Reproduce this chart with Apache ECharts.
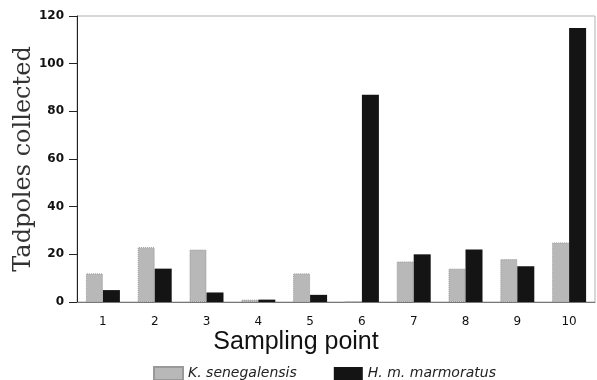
<!DOCTYPE html>
<html>
<head>
<meta charset="utf-8">
<script src="https://cdn.jsdelivr.net/npm/echarts@6/dist/echarts.min.js"></script>
<style>
    html, body { margin: 0; padding: 0; background: #fff; }
    #chart { width: 597px; height: 380px; }
</style>
</head>
<body>
<div id="chart"></div>
<script>
    // sampling points along the x axis
    var points = ['1', '2', '3', '4', '5', '6', '7', '8', '9', '10']
    // tadpoles collected per species
    var kSenegalensis = [12, 23, 22, 1, 12, 0, 17, 14, 18, 25]
    var hMarmoratus = [5, 14, 4, 1, 3, 87, 20, 22, 15, 115]
    var yTicks = [0, 20, 40, 60, 80, 100, 120]

    var myChart = echarts.init(document.getElementById('chart'))

    var option = {
        animation: false,
        grid: {
            left: 77,
            right: 2,
            top: 16,
            bottom: 78,
            outerBoundsMode: 'none',
            show: true,
            borderColor: '#b0b0b0',
            borderWidth: 1
        },
        // x axis title sits left of the plot centre in the original
        graphic: [{
            type: 'text',
            x: 296,
            y: 342,
            style: {
                text: 'Sampling point',
                fontFamily: 'Liberation Sans',
                fontSize: 25,
                fill: '#111',
                textAlign: 'center',
                textVerticalAlign: 'middle'
            }
        }],
        legend: {
            top: 361,
            left: 148,
            itemWidth: 29,
            itemHeight: 13,
            itemGap: 37,
            icon: 'rect',
            textStyle: {
                fontFamily: 'DejaVu Sans',
                fontStyle: 'italic',
                fontSize: 14,
                color: '#222'
            },
            data: ['K. senegalensis', 'H. m. marmoratus']
        },
        xAxis: {
            type: 'category',
            data: points,
            axisLine: { lineStyle: { color: '#777', width: 1 } },
            axisTick: { alignWithLabel: true, length: 4, lineStyle: { color: '#333' } },
            axisLabel: {
                margin: 14,
                fontFamily: 'DejaVu Sans',
                fontSize: 12,
                color: '#111'
            }
        },
        yAxis: {
            type: 'value',
            min: yTicks[0],
            max: yTicks[yTicks.length - 1],
            interval: 20,
            name: 'Tadpoles collected',
            nameLocation: 'middle',
            nameMoveOverlap: false,
            nameGap: 41,
            nameTextStyle: {
                fontFamily: 'DejaVu Serif',
                fontSize: 24,
                color: '#333'
            },
            splitLine: { show: false },
            axisLine: { show: true, lineStyle: { color: '#222', width: 1 } },
            axisTick: { show: true, length: 8, lineStyle: { color: '#222' } },
            axisLabel: {
                margin: 13,
                fontFamily: 'DejaVu Sans',
                fontWeight: 'bold',
                fontSize: 12,
                color: '#111'
            }
        },
        series: [
            {
                name: 'K. senegalensis',
                type: 'bar',
                data: kSenegalensis,
                barWidth: 17,
                barGap: '0%',
                itemStyle: {
                    color: '#b8b8b8',
                    borderColor: '#999',
                    borderWidth: 1,
                    borderType: 'dotted'
                }
            },
            {
                name: 'H. m. marmoratus',
                type: 'bar',
                data: hMarmoratus,
                barWidth: 17,
                itemStyle: { color: '#141414' }
            }
        ]
    }

    myChart.setOption(option)
</script>
</body>
</html>
